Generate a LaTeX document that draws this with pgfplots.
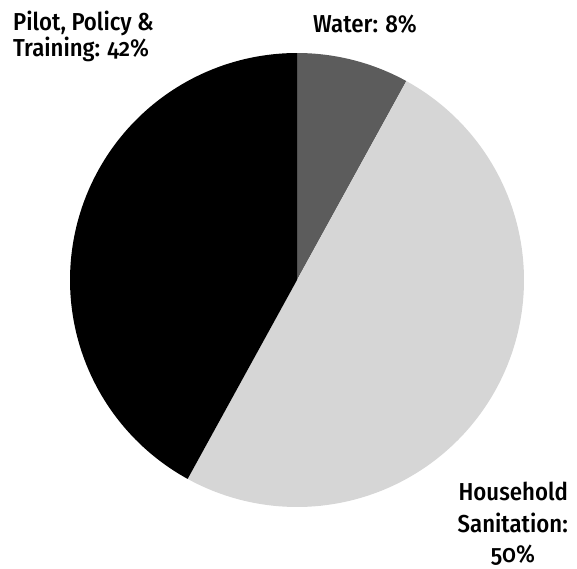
\documentclass[border=0pt]{standalone}
\usepackage{pgfplots}
\usepackage{pgfplotstable}
\usepackage{fontspec}
\pgfplotsset{compat=1.18}
\IfFontExistsTF{Fira Sans Condensed Medium}
  {\setmainfont{Fira Sans Condensed Medium}[Numbers=OldStyle]\def\lblscale{1}}
  {\IfFontExistsTF{Fira Sans Medium}
     {\setmainfont{Fira Sans Medium}[Numbers=OldStyle]\def\lblscale{0.91}}
     {\setmainfont{Fira Sans}[Numbers=OldStyle,FakeBold=1.5]\def\lblscale{0.91}}}

% Share of funding by component (percent), in clockwise order from the top
\pgfplotstableread{
share
8
50
42
}\shares

\pgfplotstablegetelem{0}{share}\of\shares \let\sWater\pgfplotsretval
\pgfplotstablegetelem{1}{share}\of\shares \let\sSan\pgfplotsretval
\pgfplotstablegetelem{2}{share}\of\shares \let\sPilot\pgfplotsretval

% wedge boundaries in degrees, measured counter-clockwise, starting at 12 o'clock
\pgfmathsetmacro{\aA}{90}
\pgfmathsetmacro{\aB}{\aA-3.6*\sWater}
\pgfmathsetmacro{\aC}{\aB-3.6*\sSan}
\pgfmathsetmacro{\aD}{\aC-3.6*\sPilot}

\definecolor{waterc}{gray}{0.36}
\definecolor{sanc}{gray}{0.84}
\definecolor{pilotc}{gray}{0.0}

\begin{document}
\begin{tikzpicture}
\path[use as bounding box] (0,0) rectangle (577pt,568pt);
\begin{axis}[
  at={(297pt,288pt)}, anchor=center,
  scale only axis, width=454pt, height=454pt,
  xmin=-1, xmax=1, ymin=-1, ymax=1,
  hide axis, clip=false,
]
\addplot[draw=none, fill=waterc, domain=\aB:\aA, samples=40]
  ({cos(x)},{sin(x)}) -- (axis cs:0,0) -- cycle;
\addplot[draw=none, fill=sanc, domain=\aC:\aB, samples=120]
  ({cos(x)},{sin(x)}) -- (axis cs:0,0) -- cycle;
\addplot[draw=none, fill=pilotc, domain=\aD:\aC, samples=120]
  ({cos(x)},{sin(x)}) -- (axis cs:0,0) -- cycle;
\end{axis}
\begin{scope}[font=\fontsize{24.5}{31}\selectfont, every node/.style={inner sep=0pt, xscale=\lblscale}]
\node[anchor=base west] at (13pt,537pt) {Pilot, Policy \&};
\node[anchor=base west] at (13pt,511pt) {Training: 42\%};
\node[anchor=base west] at (313pt,535pt) {Water: 8\%};
\node[anchor=base east] at (568pt,68pt) {Household};
\node[anchor=base east] at (568pt,36pt) {Sanitation:};
\node[anchor=base] at (513pt,6pt) {50\%};
\end{scope}
\end{tikzpicture}
\end{document}
